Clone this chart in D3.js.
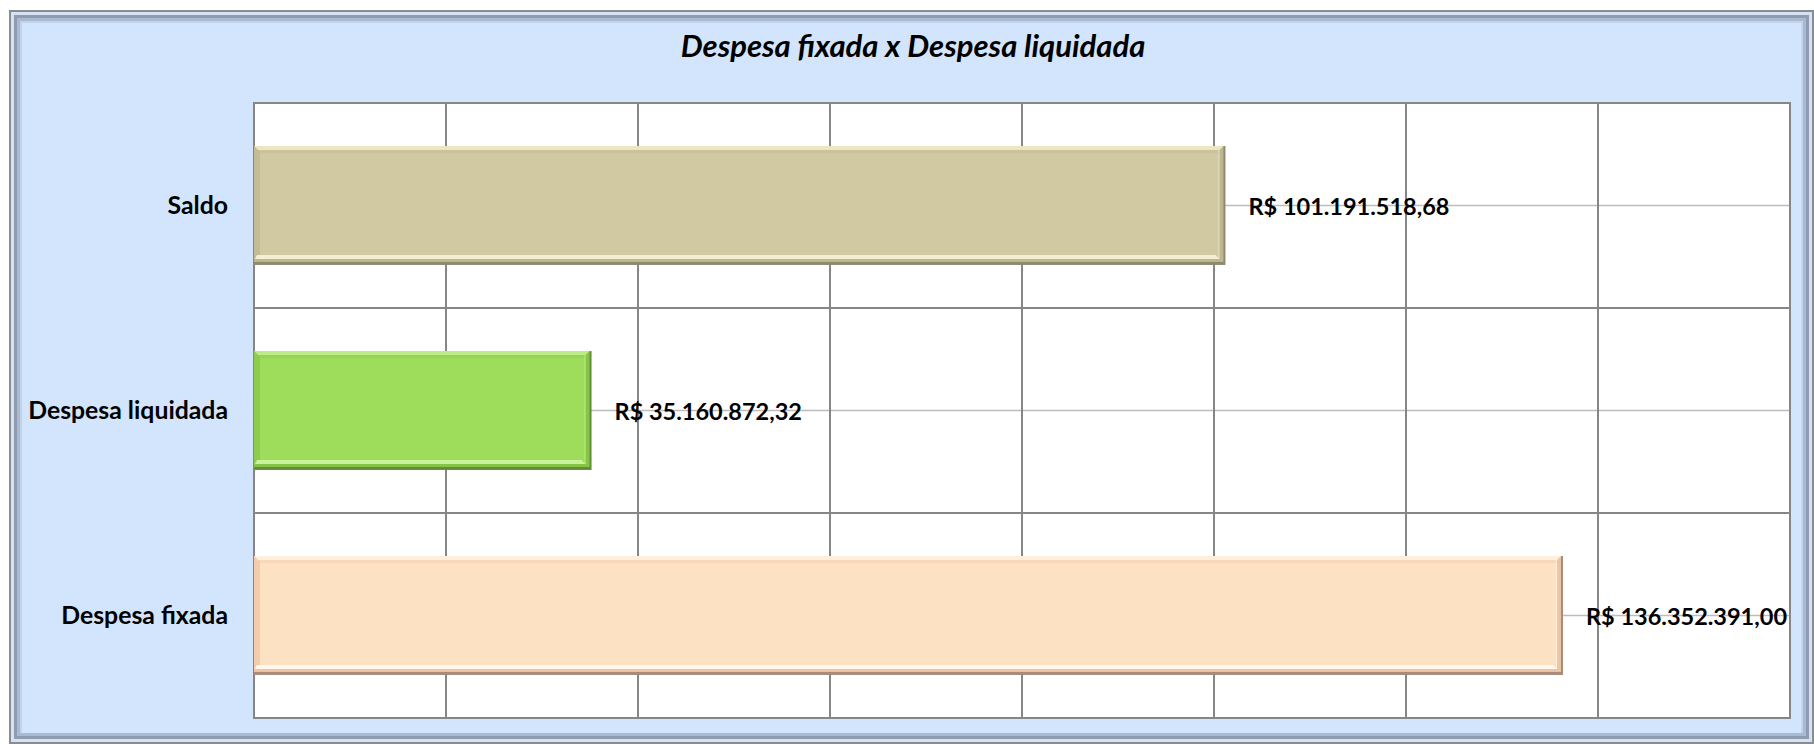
<!DOCTYPE html>
<html>
<head>
<meta charset="utf-8">
<script src="https://cdn.jsdelivr.net/npm/d3@7"></script>
<style>
  html, body { margin: 0; padding: 0; background: #ffffff; }
  svg { display: block; }
  text { font-family: Lato, "Open Sans", sans-serif; fill: #000; }
</style>
</head>
<body>
<svg id="chart" width="1814" height="744"></svg>
<script>
// data
var categories = ["Saldo", "Despesa liquidada", "Despesa fixada"];
var values = [101191518.68, 35160872.32, 136352391.00];
var xTicks = [0, 20e6, 40e6, 60e6, 80e6, 100e6, 120e6, 140e6, 160e6];
var title = "Despesa fixada x Despesa liquidada";

// bar colours: fill, top light, side shade, dark edge, bottom highlight
var barColors = [
  {fill: "#d0c9a1", light: "#ede6c2", left: "#bdb68f", dark: "#8e8a6f", hi: "#f4eed4"},
  {fill: "#9edd5b", light: "#bcec87", left: "#86c548", dark: "#628f36", hi: "#c8f29b"},
  {fill: "#fde1c3", light: "#fff0de", left: "#ecc5a4", dark: "#a88b78", hi: "#fff8ee"}
];

var brl = d3.formatLocale({decimal: ",", thousands: ".", grouping: [3], currency: ["R$ ", ""]});
var fmt = brl.format("$,.2f");

var svg = d3.select("#chart");

// outer frame
var W = 1814, H = 744;
svg.append("rect").attr("x", 9).attr("y", 10).attr("width", W - 9).attr("height", H - 10).attr("fill", "#8a8c90");
svg.append("rect").attr("x", 11).attr("y", 12).attr("width", W - 13).attr("height", H - 14).attr("fill", "#d4e2f4");
svg.append("rect").attr("x", 14).attr("y", 15).attr("width", W - 19).attr("height", H - 20).attr("fill", "#8e9bb0");
svg.append("rect").attr("x", 17).attr("y", 18).attr("width", W - 25).attr("height", H - 26).attr("fill", "#a9b9d0");
svg.append("rect").attr("x", 20).attr("y", 21).attr("width", W - 31).attr("height", H - 32).attr("fill", "#c0d3ec");
svg.append("rect").attr("x", 22).attr("y", 23).attr("width", 1779).attr("height", 710).attr("fill", "#d3e5fc");

// title
svg.append("text")
  .attr("x", 913).attr("y", 57)
  .attr("text-anchor", "middle")
  .style("font-size", "31px").style("font-weight", "bold").style("font-style", "italic")
  .text(title);

// plot area
var plotLeft = 254, plotTop = 103, plotRight = 1790, plotBottom = 718;

var x = d3.scaleLinear().domain([0, 160e6]).range([plotLeft, plotRight]);
var y = d3.scaleBand().domain(categories).range([plotTop, plotBottom]).padding(0);
var barH = y.bandwidth() * 0.58;

svg.append("rect")
  .attr("x", plotLeft).attr("y", plotTop).attr("width", plotRight - plotLeft).attr("height", plotBottom - plotTop)
  .attr("fill", "#ffffff");

// light lines through the middle of each category
svg.append("g").selectAll("line")
  .data(categories)
  .enter().append("line")
  .attr("x1", plotLeft).attr("x2", plotRight)
  .attr("y1", function(d){ return y(d) + y.bandwidth() / 2; })
  .attr("y2", function(d){ return y(d) + y.bandwidth() / 2; })
  .attr("stroke", "#bdbdbd").attr("stroke-width", 1.5);

// vertical gridlines
svg.append("g").selectAll("line")
  .data(xTicks)
  .enter().append("line")
  .attr("x1", function(d){ return x(d); }).attr("x2", function(d){ return x(d); })
  .attr("y1", plotTop).attr("y2", plotBottom)
  .attr("stroke", "#868686").attr("stroke-width", 2);

// horizontal gridlines between categories
svg.append("g").selectAll("line")
  .data(categories.slice(1))
  .enter().append("line")
  .attr("x1", plotLeft).attr("x2", plotRight)
  .attr("y1", function(d){ return y(d); }).attr("y2", function(d){ return y(d); })
  .attr("stroke", "#868686").attr("stroke-width", 2);

svg.append("rect")
  .attr("x", plotLeft).attr("y", plotTop).attr("width", plotRight - plotLeft).attr("height", plotBottom - plotTop)
  .attr("fill", "none").attr("stroke", "#868686").attr("stroke-width", 2);

// bars with a bevel look
var bars = svg.append("g").selectAll("g")
  .data(categories)
  .enter().append("g")
  .attr("class", "bar");

bars.each(function(d, i) {
  var g = d3.select(this);
  var c = barColors[i];
  var x0 = x(0), x1 = x(values[i]);
  var y0 = y(d) + (y.bandwidth() - barH) / 2, y1 = y0 + barH;
  var b = 6;

  // outer dark edge (right + bottom)
  g.append("rect").attr("x", x0).attr("y", y0).attr("width", x1 - x0).attr("height", barH).attr("fill", c.dark);
  // mid-tone shade inside it
  g.append("rect").attr("x", x0).attr("y", y0).attr("width", x1 - x0 - 2).attr("height", barH - 3).attr("fill", c.left);
  // face
  g.append("rect").attr("x", x0).attr("y", y0).attr("width", x1 - x0 - b).attr("height", barH - b).attr("fill", c.fill);
  // top highlight
  g.append("polygon")
    .attr("points", [[x0, y0], [x1 - 2, y0], [x1 - b, y0 + 4], [x0 + 4, y0 + 4]].join(" "))
    .attr("fill", c.light);
  g.append("rect").attr("x", x0 + 4).attr("y", y0 + 4).attr("width", x1 - x0 - b - 4).attr("height", 3)
    .attr("fill", c.left).attr("opacity", 0.35);
  // left shade
  g.append("polygon")
    .attr("points", [[x0, y0], [x0 + b, y0 + b], [x0 + b, y1 - b], [x0, y1 - 3]].join(" "))
    .attr("fill", c.left).attr("opacity", 0.7);
  // bottom highlight strip
  g.append("polygon")
    .attr("points", [[x0 + 3, y1 - b - 4], [x1 - b - 4, y1 - b - 4], [x1 - b, y1 - b], [x0 + 1, y1 - b]].join(" "))
    .attr("fill", c.hi);
  // thin highlight inside right edge
  g.append("line")
    .attr("x1", x1 - b - 0.5).attr("x2", x1 - b - 0.5).attr("y1", y0 + 4).attr("y2", y1 - b)
    .attr("stroke", c.hi).attr("stroke-width", 1).attr("opacity", 0.7);
});

// category labels
svg.append("g").selectAll("text")
  .data(categories)
  .enter().append("text")
  .attr("x", plotLeft - 26)
  .attr("y", function(d){ return y(d) + y.bandwidth() / 2; })
  .attr("dy", "0.35em")
  .attr("text-anchor", "end")
  .style("font-size", "24.8px").style("font-weight", "bold")
  .text(function(d){ return d; });

// value labels
svg.append("g").selectAll("text")
  .data(categories)
  .enter().append("text")
  .attr("x", function(d, i){ return x(values[i]) + 23; })
  .attr("y", function(d){ return y(d) + y.bandwidth() / 2 + 1; })
  .attr("dy", "0.35em")
  .style("font-size", "23.5px").style("font-weight", "bold")
  .text(function(d, i){ return fmt(values[i]); });
</script>
</body>
</html>
